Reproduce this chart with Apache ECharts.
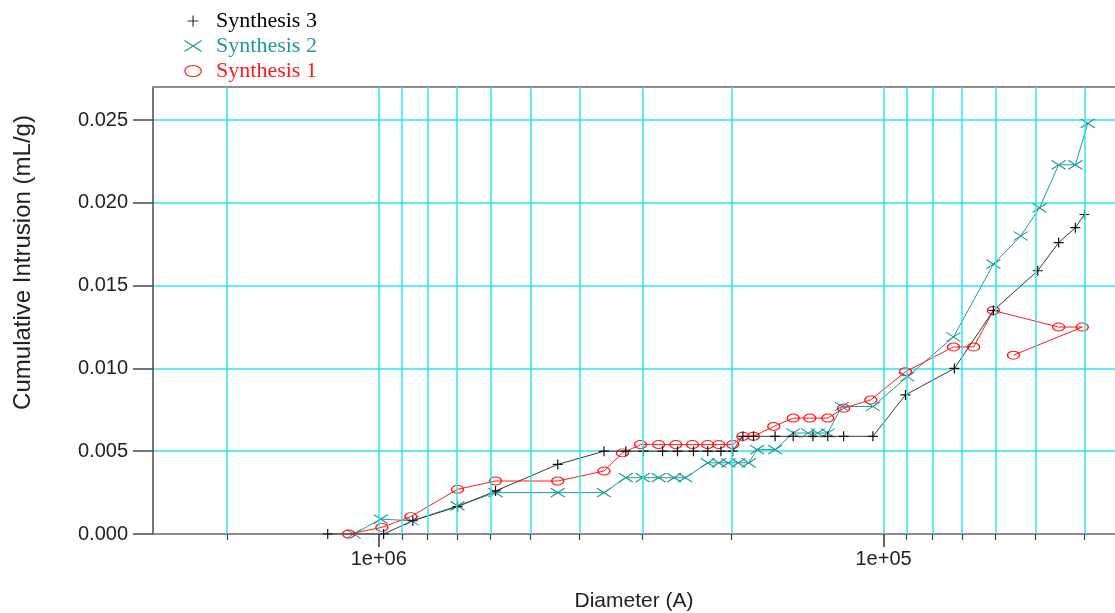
<!DOCTYPE html>
<html><head><meta charset="utf-8">
<script src="https://cdn.jsdelivr.net/npm/echarts@6/dist/echarts.min.js"></script>
<style>html,body{margin:0;padding:0;background:#fff}#c{width:1115px;height:613px}</style>
</head><body><div id="c"></div>
<script>
// ---- tick definitions ----
const xMajorTicks = [1e6, 1e5];
const xTickLabels = ['1e+06', '1e+05'];
const xMinorTicks = [2e6, 9e5, 8e5, 7e5, 6e5, 5e5, 4e5, 3e5, 2e5, 9e4, 8e4, 7e4, 6e4, 5e4, 4e4];
const xGridValues = [2e6, 1e6, 9e5, 8e5, 7e5, 6e5, 5e5, 4e5, 3e5, 2e5, 1e5, 9e4, 8e4, 7e4, 6e4, 5e4, 4e4];
const yTicks = [0, 0.005, 0.010, 0.015, 0.020, 0.025];

// ---- Synthesis 3 ----
const syn3Diam = [1.262e6, 9.78e5, 8.56e5, 6.98e5, 5.87e5, 4.42e5, 3.58e5, 3.24e5, 2.99e5, 2.74e5, 2.56e5, 2.38e5, 2.23e5, 2.10e5, 1.99e5,
  1.90e5, 1.81e5, 1.64e5, 1.51e5, 1.38e5, 1.29e5, 1.20e5, 1.05e5, 9.05e4, 7.24e4, 6.06e4, 4.95e4, 4.50e4, 4.17e4, 4.00e4];
const syn3Vals = [0, 0, 0.0008, 0.00165, 0.0026, 0.0042, 0.0050, 0.0050, 0.0050, 0.0050, 0.0050, 0.0050, 0.0050, 0.0050, 0.0050,
  0.0059, 0.0059, 0.0059, 0.0059, 0.0059, 0.0059, 0.0059, 0.0059, 0.0084, 0.0100, 0.0135, 0.0159, 0.0176, 0.0185, 0.0193];

// ---- Synthesis 2 ----
const syn2Diam = [1.121e6, 9.91e5, 8.60e5, 6.98e5, 5.87e5, 4.42e5, 3.58e5, 3.24e5, 3.00e5, 2.79e5, 2.60e5, 2.47e5, 2.23e5, 2.12e5, 2.03e5,
  1.94e5, 1.85e5, 1.78e5, 1.64e5, 1.51e5, 1.41e5, 1.35e5, 1.29e5, 1.21e5, 1.05e5, 8.97e4, 7.27e4, 6.06e4, 5.35e4, 4.91e4, 4.50e4, 4.17e4, 3.94e4];
const syn2Vals = [0, 0.0009, 0.0008, 0.0017, 0.0025, 0.0025, 0.0025, 0.0034, 0.0034, 0.0034, 0.0034, 0.0034, 0.0043, 0.0043, 0.0043,
  0.0043, 0.0043, 0.0051, 0.0051, 0.0061, 0.0061, 0.0061, 0.0061, 0.0077, 0.0077, 0.0095, 0.0119, 0.0163, 0.0180, 0.0197, 0.0223, 0.0223, 0.0248];

// ---- Synthesis 1 ----
const syn1Diam = [1.147e6, 9.86e5, 8.64e5, 6.98e5, 5.87e5, 4.42e5, 3.58e5, 3.29e5, 3.03e5, 2.79e5, 2.58e5, 2.39e5, 2.23e5, 2.12e5, 1.99e5,
  1.90e5, 1.81e5, 1.65e5, 1.51e5, 1.40e5, 1.29e5, 1.20e5, 1.06e5, 9.05e4, 7.27e4, 6.63e4, 6.06e4, 4.50e4, 4.04e4, 5.53e4];
const syn1Vals = [0, 0.0004, 0.00105, 0.0027, 0.0032, 0.0032, 0.0038, 0.0049, 0.0054, 0.0054, 0.0054, 0.0054, 0.0054, 0.0054, 0.0054,
  0.0059, 0.0059, 0.0065, 0.0070, 0.0070, 0.0070, 0.0076, 0.0081, 0.0098, 0.0113, 0.0113, 0.0135, 0.0125, 0.0125, 0.0108];

const C3 = '#000000', C2 = '#1f9a9a', C1 = '#ff1a1a';
const L3 = '#3a3a3a';
const CYAN = '#2ee6ee';
const SYM_PLUS = 'path://M0,5L10,5M5,0L5,10';
const SYM_CROSS = 'path://M0,0L14,9M0,9L14,0';
const SYM_OVAL = 'path://M0,4A6,4,0,1,1,12,4A6,4,0,1,1,0,4Z';

const pairs = (xs, ys) => xs.map((x, i) => [x, ys[i]]);
const fmtX = v => {
  for (let i = 0; i < xMajorTicks.length; i++) {
    if (Math.abs(Math.log10(v / xMajorTicks[i])) < 1e-6) return xTickLabels[i];
  }
  return '';
};
const sansFont = 'Liberation Sans, Arial, sans-serif';
const X_MIN = 3.48e4, X_MAX = 2.8e6;

const chart = echarts.init(document.getElementById('c'), null, {renderer: 'canvas'});
chart.setOption({
  animation: false,
  backgroundColor: '#ffffff',
  grid: {left: 153, top: 87, bottom: 79, right: 0, show: false, containLabel: false, outerBoundsMode: 'none'},
  legend: {
    orient: 'vertical', left: 177, top: 5, itemWidth: 36, itemHeight: 11, itemGap: 3,
    textStyle: {fontFamily: 'Liberation Serif, Times New Roman, serif', fontSize: 22, lineHeight: 22},
    data: [
      {name: 'Synthesis 3', icon: SYM_PLUS, textStyle: {color: C3}, itemStyle: {color: 'none', borderColor: '#333', borderWidth: 1.2}},
      {name: 'Synthesis 2', icon: SYM_CROSS, textStyle: {color: C2}, itemStyle: {color: 'none', borderColor: C2, borderWidth: 1.2}},
      {name: 'Synthesis 1', icon: SYM_OVAL, textStyle: {color: C1}, itemStyle: {color: 'none', borderColor: C1, borderWidth: 1.2}}
    ]
  },
  xAxis: [{
    type: 'log', logBase: 10, min: X_MIN, max: X_MAX, inverse: true,
    axisLine: {show: true, lineStyle: {color: '#8c8c8c', width: 2}},
    axisTick: {show: true, customValues: xMajorTicks, length: 13, lineStyle: {color: '#333', width: 1.5}},
    axisLabel: {customValues: xMajorTicks, formatter: fmtX, margin: 15, fontFamily: sansFont, fontSize: 20, color: '#222'},
    splitLine: {show: false},
    name: 'Diameter (A)', nameLocation: 'middle', nameGap: 57,
    nameTextStyle: {fontFamily: sansFont, fontSize: 21, color: '#222'}
  }, {
    type: 'log', logBase: 10, min: X_MIN, max: X_MAX, inverse: true, position: 'bottom',
    axisLine: {show: false},
    axisTick: {show: true, customValues: xMinorTicks, length: 6, lineStyle: {color: '#444', width: 1.2}},
    axisLabel: {show: false},
    splitLine: {show: false}
  }, {
    type: 'log', logBase: 10, min: X_MIN, max: X_MAX, inverse: true, position: 'top',
    axisLine: {show: true, lineStyle: {color: '#8c8c8c', width: 2}},
    axisTick: {show: false}, axisLabel: {show: false}, splitLine: {show: false}
  }],
  yAxis: {
    type: 'value', min: 0, max: 0.027, interval: 0.005,
    axisLine: {show: true, lineStyle: {color: '#4a4a4a', width: 1.5}},
    axisTick: {show: true, customValues: yTicks, length: 20, lineStyle: {color: '#4a4a4a', width: 1.5}},
    axisLabel: {customValues: yTicks, formatter: v => v.toFixed(3), margin: 25, fontFamily: sansFont, fontSize: 20, color: '#222'},
    splitLine: {show: true, lineStyle: {color: CYAN, width: 1.5}},
    name: 'Cumulative Intrusion (mL/g)', nameLocation: 'middle', nameGap: 118,
    nameTextStyle: {fontFamily: sansFont, fontSize: 24, color: '#222', padding: [0, 0, 0, 96]}
  },
  series: [
    {
      name: 'grid', type: 'line', data: [], z: 1, silent: true,
      markLine: {silent: true, symbol: ['none', 'none'], label: {show: false}, animation: false,
        lineStyle: {color: CYAN, width: 1.5, type: 'solid'},
        emphasis: {disabled: true},
        data: xGridValues.map(v => ({xAxis: v}))}
    },
    {
      name: 'Synthesis 3', type: 'line', z: 4, data: pairs(syn3Diam, syn3Vals),
      symbol: SYM_PLUS, symbolSize: [10, 10], symbolKeepAspect: false, showAllSymbol: true,
      lineStyle: {color: L3, width: 1},
      itemStyle: {color: 'none', borderColor: '#111', borderWidth: 1.2}
    },
    {
      name: 'Synthesis 2', type: 'line', z: 3, data: pairs(syn2Diam, syn2Vals),
      symbol: SYM_CROSS, symbolSize: [14, 9], symbolKeepAspect: false, showAllSymbol: true,
      lineStyle: {color: C2, width: 1},
      itemStyle: {color: 'none', borderColor: C2, borderWidth: 1.2}
    },
    {
      name: 'Synthesis 1', type: 'line', z: 3, data: pairs(syn1Diam, syn1Vals),
      symbol: SYM_OVAL, symbolSize: [12, 8], symbolKeepAspect: false, showAllSymbol: true,
      lineStyle: {color: C1, width: 1},
      itemStyle: {color: 'none', borderColor: C1, borderWidth: 1.2}
    }
  ]
});
</script></body></html>
